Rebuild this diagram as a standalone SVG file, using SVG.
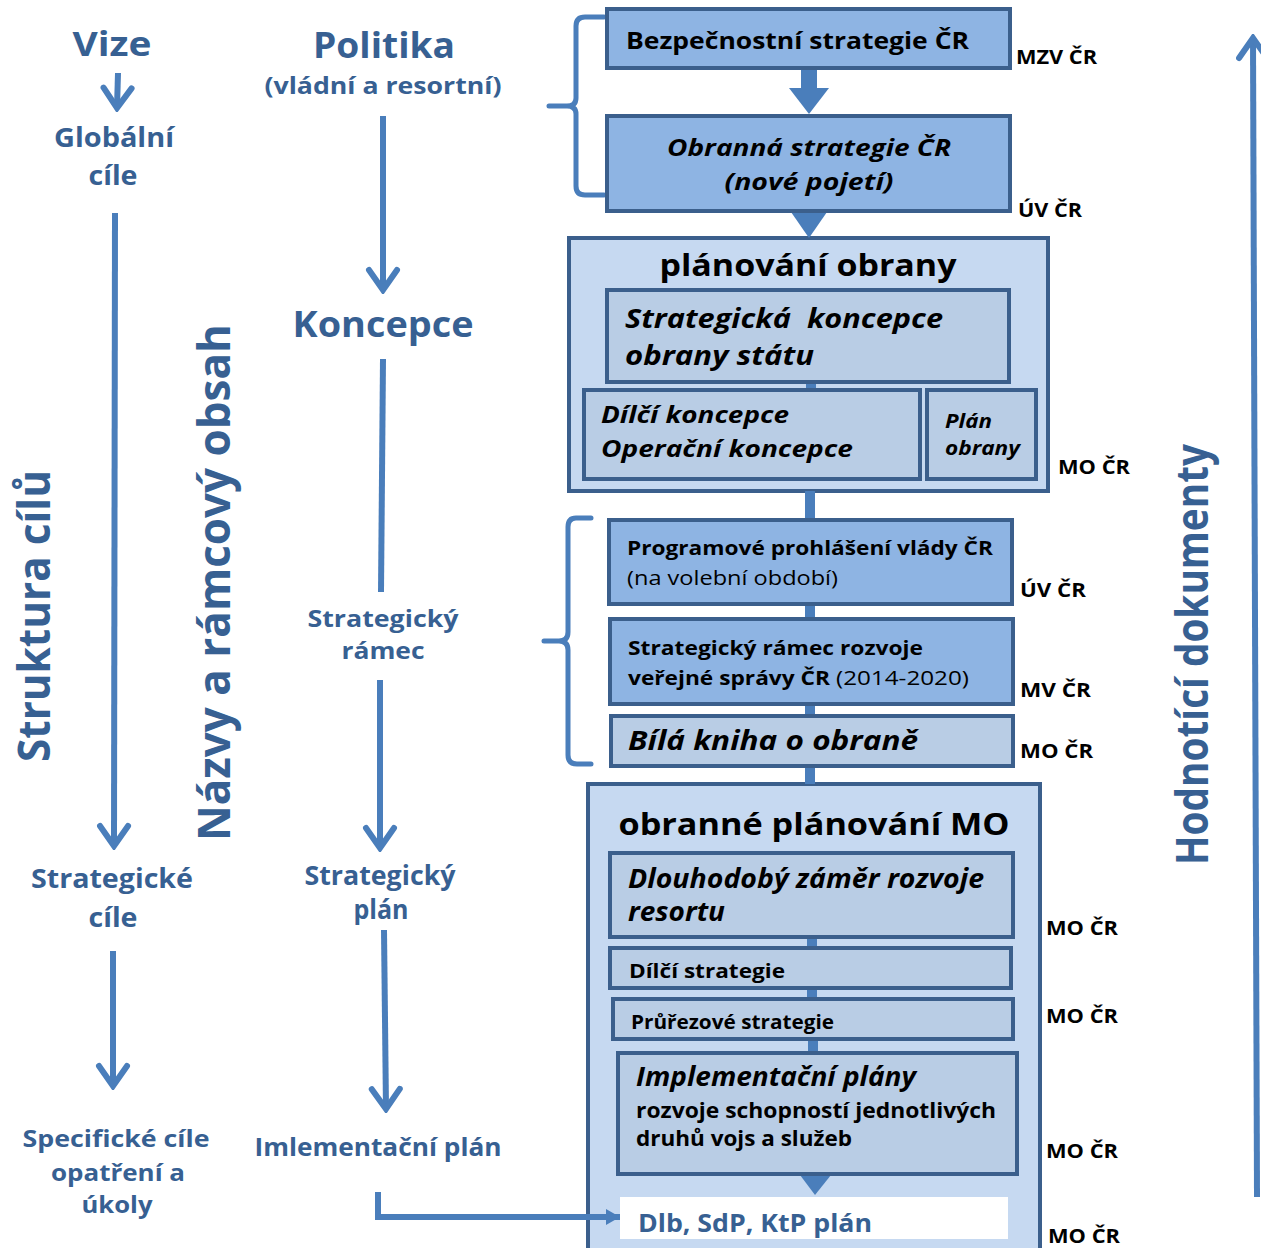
<svg xmlns="http://www.w3.org/2000/svg" width="1261" height="1248" viewBox="0 0 1261 1248">
  <defs>
    <style>
      .t { font-family: "Open Sans", "Liberation Sans", sans-serif; font-weight: 700; }
      .blue { fill: #376092; }
      .blk { fill: #000000; }
      .it { font-style: italic; }
      .reg { font-weight: 400; }
      .org { font-family: "Open Sans", "Liberation Sans", sans-serif; font-weight: 700; font-size: 19px; fill: #000; }
      .box { fill: #8EB4E3; stroke: #3B5F8C; stroke-width: 4; }
      .inner { fill: #B9CDE5; stroke: #3B5F8C; stroke-width: 4; }
      .cont { fill: #C6D9F1; stroke: #3B5F8C; stroke-width: 4; }
      .ln { fill: none; stroke: #4A7EBB; stroke-width: 6; }
      .bar { fill: #4A7EBB; }
      .brace { fill: none; stroke: #4A7EBB; stroke-width: 5; stroke-linecap: round; stroke-linejoin: round; }
    </style>
    <marker id="chev" viewBox="-26 -18 30 36" refX="0" refY="0" markerWidth="30" markerHeight="36" markerUnits="userSpaceOnUse" orient="auto">
      <path d="M-20,-14 L0,0 L-20,14" fill="none" stroke="#4A7EBB" stroke-width="6" stroke-linecap="round" stroke-linejoin="miter"/>
    </marker>
    <marker id="tri" viewBox="-16 -10 18 20" refX="0" refY="0" markerWidth="18" markerHeight="20" markerUnits="userSpaceOnUse" orient="auto">
      <path d="M-14,-8 L0,0 L-14,8 Z" fill="#4A7EBB"/>
    </marker>
  </defs>

  <rect width="1261" height="1248" fill="#FFFFFF"/>

  <!-- outer containers -->
  <g id="planovani-obrany">
    <rect class="cont" x="569" y="238" width="479" height="253"/>
    <text class="t blk" x="808" y="276" font-size="30" text-anchor="middle" textLength="297" lengthAdjust="spacingAndGlyphs">plánování obrany</text>
  </g>
  <g id="obranne-planovani-mo">
    <rect class="cont" x="588" y="784" width="452" height="470"/>
    <text class="t blk" x="814" y="835" font-size="30" text-anchor="middle" textLength="391" lengthAdjust="spacingAndGlyphs">obranné plánování MO</text>
  </g>

  <!-- connectors -->
  <g id="connectors">
    <!-- block arrow between the two strategies -->
    <rect class="bar" x="801" y="68" width="16" height="21"/>
    <polygon class="bar" points="789,88 829,88 809,114"/>
    <polygon class="bar" points="791,212 827,212 809,238"/>
    <!-- spine through the document stack -->
    <rect class="bar" x="806" y="382" width="10" height="8"/>
    <rect class="bar" x="805" y="491" width="10" height="29"/>
    <rect class="bar" x="805" y="604" width="10" height="15"/>
    <rect class="bar" x="805" y="703" width="10" height="13"/>
    <rect class="bar" x="805" y="766" width="10" height="18"/>
    <rect class="bar" x="807" y="937" width="10" height="12"/>
    <rect class="bar" x="807" y="988" width="10" height="12"/>
    <rect class="bar" x="808" y="1039" width="10" height="15"/>
    <polygon class="bar" points="800,1175 831,1175 815,1195"/>

    <!-- braces -->
    <path class="brace" d="M604,17 L585,17 Q576,17 576,26 L576,98 Q576,106 567,106 L549,106 M567,106 Q576,106 576,114 L576,186 Q576,195 585,195 L604,195"/>
    <path class="brace" d="M591,518 L576,518 Q568,518 568,527 L568,632 Q568,641 559,641 L544,641 M559,641 Q568,641 568,650 L568,755 Q568,764 577,764 L591,764"/>

    <!-- left column: goal structure -->
    <path class="ln" d="M118,73 L117,108" marker-end="url(#chev)"/>
    <path class="ln" d="M115,213 L114,846" marker-end="url(#chev)"/>
    <path class="ln" d="M113,951 L113,1086" marker-end="url(#chev)"/>

    <!-- middle column: document names -->
    <path class="ln" d="M383,116 L383,290" marker-end="url(#chev)"/>
    <path class="ln" d="M383,359 L381,592"/>
    <path class="ln" d="M380,680 L380,848" marker-end="url(#chev)"/>
    <path class="ln" d="M384,930 L386,1109" marker-end="url(#chev)"/>
    <path class="ln" d="M378,1192 L378,1217 L620,1217" stroke-linejoin="miter" marker-end="url(#tri)"/>

    <!-- right: evaluation arrow -->
    <path class="ln" d="M1257,1197 L1253,38" marker-end="url(#chev)"/>
  </g>

  <!-- strategy documents -->
  <g id="bezpecnostni-strategie">
    <rect class="box" x="607" y="9" width="403" height="59"/>
    <text class="t blk" x="626" y="49" font-size="24" textLength="343" lengthAdjust="spacingAndGlyphs">Bezpečnostní strategie ČR</text>
    <text class="org" x="1016" y="64" textLength="81" lengthAdjust="spacingAndGlyphs">MZV ČR</text>
  </g>
  <g id="obranna-strategie">
    <rect class="box" x="607" y="116" width="403" height="95"/>
    <text class="t blk it" x="809" y="156" font-size="24" text-anchor="middle" textLength="284" lengthAdjust="spacingAndGlyphs">Obranná strategie ČR</text>
    <text class="t blk it" x="809" y="190" font-size="24" text-anchor="middle" textLength="169" lengthAdjust="spacingAndGlyphs">(nové pojetí)</text>
    <text class="org" x="1018" y="217" textLength="64" lengthAdjust="spacingAndGlyphs">ÚV ČR</text>
  </g>

  <g id="strategicka-koncepce">
    <rect class="inner" x="607" y="290" width="402" height="92"/>
    <text class="t blk it" x="625" y="328" font-size="26" textLength="318" lengthAdjust="spacingAndGlyphs" xml:space="preserve" style="white-space: pre">Strategická  koncepce</text>
    <text class="t blk it" x="625" y="365" font-size="26" textLength="189" lengthAdjust="spacingAndGlyphs">obrany státu</text>
  </g>
  <g id="dilci-koncepce">
    <rect class="inner" x="584" y="390" width="336" height="89"/>
    <text class="t blk it" x="601" y="423" font-size="24" textLength="188" lengthAdjust="spacingAndGlyphs">Dílčí koncepce</text>
    <text class="t blk it" x="601" y="457" font-size="24" textLength="252" lengthAdjust="spacingAndGlyphs">Operační koncepce</text>
  </g>
  <g id="plan-obrany">
    <rect class="inner" x="927" y="390" width="109" height="89"/>
    <text class="t blk it" x="945" y="428" font-size="19" textLength="47" lengthAdjust="spacingAndGlyphs">Plán</text>
    <text class="t blk it" x="945" y="455" font-size="19" textLength="75" lengthAdjust="spacingAndGlyphs">obrany</text>
    <text class="org" x="1058" y="474" textLength="72" lengthAdjust="spacingAndGlyphs">MO ČR</text>
  </g>

  <g id="programove-prohlaseni">
    <rect class="box" x="609" y="520" width="403" height="84"/>
    <text class="t blk" x="627" y="555" font-size="20" textLength="366" lengthAdjust="spacingAndGlyphs">Programové prohlášení vlády ČR</text>
    <text class="t blk reg" x="627" y="585" font-size="20" textLength="211" lengthAdjust="spacingAndGlyphs">(na volební období)</text>
    <text class="org" x="1020" y="597" textLength="66" lengthAdjust="spacingAndGlyphs">ÚV ČR</text>
  </g>
  <g id="strategicky-ramec-vs">
    <rect class="box" x="610" y="619" width="403" height="85"/>
    <text class="t blk" x="628" y="655" font-size="20" textLength="295" lengthAdjust="spacingAndGlyphs">Strategický rámec rozvoje</text>
    <text class="t blk" x="628" y="685" font-size="20" textLength="202" lengthAdjust="spacingAndGlyphs">veřejné správy ČR</text>
    <text class="t blk reg" x="836" y="685" font-size="20" textLength="133" lengthAdjust="spacingAndGlyphs">(2014-2020)</text>
    <text class="org" x="1020" y="697" textLength="71" lengthAdjust="spacingAndGlyphs">MV ČR</text>
  </g>
  <g id="bila-kniha">
    <rect class="inner" x="611" y="716" width="402" height="50"/>
    <text class="t blk it" x="628" y="750" font-size="26" textLength="290" lengthAdjust="spacingAndGlyphs">Bílá kniha o obraně</text>
    <text class="org" x="1020" y="758" textLength="73" lengthAdjust="spacingAndGlyphs">MO ČR</text>
  </g>

  <g id="dlouhodoby-zamer">
    <rect class="inner" x="610" y="853" width="403" height="84"/>
    <text class="t blk it" x="628" y="888" font-size="26" textLength="356" lengthAdjust="spacingAndGlyphs">Dlouhodobý záměr rozvoje</text>
    <text class="t blk it" x="628" y="921" font-size="26" textLength="97" lengthAdjust="spacingAndGlyphs">resortu</text>
    <text class="org" x="1046" y="935" textLength="72" lengthAdjust="spacingAndGlyphs">MO ČR</text>
  </g>
  <g id="dilci-strategie">
    <rect class="inner" x="610" y="948" width="401" height="40"/>
    <text class="t blk" x="629" y="978" font-size="20" textLength="156" lengthAdjust="spacingAndGlyphs">Dílčí strategie</text>
  </g>
  <g id="prurezove-strategie">
    <rect class="inner" x="613" y="999" width="400" height="40"/>
    <text class="t blk" x="631" y="1029" font-size="19" textLength="203" lengthAdjust="spacingAndGlyphs">Průřezové strategie</text>
    <text class="org" x="1046" y="1023" textLength="72" lengthAdjust="spacingAndGlyphs">MO ČR</text>
  </g>
  <g id="implementacni-plany">
    <rect class="inner" x="618" y="1053" width="399" height="121"/>
    <text class="t blk it" x="636" y="1086" font-size="26" textLength="280" lengthAdjust="spacingAndGlyphs">Implementační plány</text>
    <text class="t blk" x="636" y="1118" font-size="21" textLength="360" lengthAdjust="spacingAndGlyphs">rozvoje schopností jednotlivých</text>
    <text class="t blk" x="636" y="1146" font-size="21" textLength="216" lengthAdjust="spacingAndGlyphs">druhů vojs a služeb</text>
    <text class="org" x="1046" y="1158" textLength="72" lengthAdjust="spacingAndGlyphs">MO ČR</text>
  </g>
  <g id="dlb-sdp-ktp">
    <rect x="620" y="1197" width="388" height="42" fill="#FFFFFF"/>
    <text class="t blue" x="638" y="1232" font-size="25" textLength="234" lengthAdjust="spacingAndGlyphs">Dlb, SdP, KtP plán</text>
    <text class="org" x="1048" y="1243" textLength="72" lengthAdjust="spacingAndGlyphs">MO ČR</text>
  </g>

  <!-- left column labels -->
  <g id="vize">
    <text class="t blue" x="112" y="56" font-size="34" text-anchor="middle" textLength="79" lengthAdjust="spacingAndGlyphs">Vize</text>
  </g>
  <g id="globalni-cile">
    <text class="t blue" x="114" y="147" font-size="26" text-anchor="middle" textLength="120" lengthAdjust="spacingAndGlyphs">Globální</text>
    <text class="t blue" x="113" y="185" font-size="26" text-anchor="middle" textLength="49" lengthAdjust="spacingAndGlyphs">cíle</text>
  </g>
  <g id="strategicke-cile">
    <text class="t blue" x="112" y="888" font-size="26" text-anchor="middle" textLength="162" lengthAdjust="spacingAndGlyphs">Strategické</text>
    <text class="t blue" x="113" y="927" font-size="26" text-anchor="middle" textLength="49" lengthAdjust="spacingAndGlyphs">cíle</text>
  </g>
  <g id="specificke-cile">
    <text class="t blue" x="116" y="1147" font-size="24" text-anchor="middle" textLength="187" lengthAdjust="spacingAndGlyphs">Specifické cíle</text>
    <text class="t blue" x="118" y="1181" font-size="24" text-anchor="middle" textLength="134" lengthAdjust="spacingAndGlyphs">opatření a</text>
    <text class="t blue" x="117" y="1213" font-size="24" text-anchor="middle" textLength="71" lengthAdjust="spacingAndGlyphs">úkoly</text>
  </g>

  <!-- middle column labels -->
  <g id="politika">
    <text class="t blue" x="384" y="58" font-size="36" text-anchor="middle" textLength="142" lengthAdjust="spacingAndGlyphs">Politika</text>
    <text class="t blue" x="383" y="94" font-size="24" text-anchor="middle" textLength="237" lengthAdjust="spacingAndGlyphs">(vládní a resortní)</text>
  </g>
  <g id="koncepce">
    <text class="t blue" x="383" y="337" font-size="36" text-anchor="middle" textLength="181" lengthAdjust="spacingAndGlyphs">Koncepce</text>
  </g>
  <g id="strategicky-ramec">
    <text class="t blue" x="383" y="627" font-size="24" text-anchor="middle" textLength="151" lengthAdjust="spacingAndGlyphs">Strategický</text>
    <text class="t blue" x="383" y="659" font-size="24" text-anchor="middle" textLength="83" lengthAdjust="spacingAndGlyphs">rámec</text>
  </g>
  <g id="strategicky-plan">
    <text class="t blue" x="380" y="885" font-size="26" text-anchor="middle" textLength="151" lengthAdjust="spacingAndGlyphs">Strategický</text>
    <text class="t blue" x="381" y="919" font-size="26" text-anchor="middle" textLength="55" lengthAdjust="spacingAndGlyphs">plán</text>
  </g>
  <g id="implementacni-plan">
    <text class="t blue" x="378" y="1156" font-size="25" text-anchor="middle" textLength="247" lengthAdjust="spacingAndGlyphs">Imlementační plán</text>
  </g>

  <!-- rotated axis titles -->
  <g id="struktura-cilu">
    <text class="t blue" transform="translate(50,762) rotate(-90)" font-size="44" textLength="292" lengthAdjust="spacingAndGlyphs">Struktura cílů</text>
  </g>
  <g id="nazvy-obsah">
    <text class="t blue" transform="translate(230,841) rotate(-90)" font-size="44" textLength="517" lengthAdjust="spacingAndGlyphs">Názvy a rámcový obsah</text>
  </g>
  <g id="hodnotici-dokumenty">
    <text class="t blue" transform="translate(1208,865) rotate(-90)" font-size="44" textLength="421" lengthAdjust="spacingAndGlyphs">Hodnotící dokumenty</text>
  </g>
</svg>
